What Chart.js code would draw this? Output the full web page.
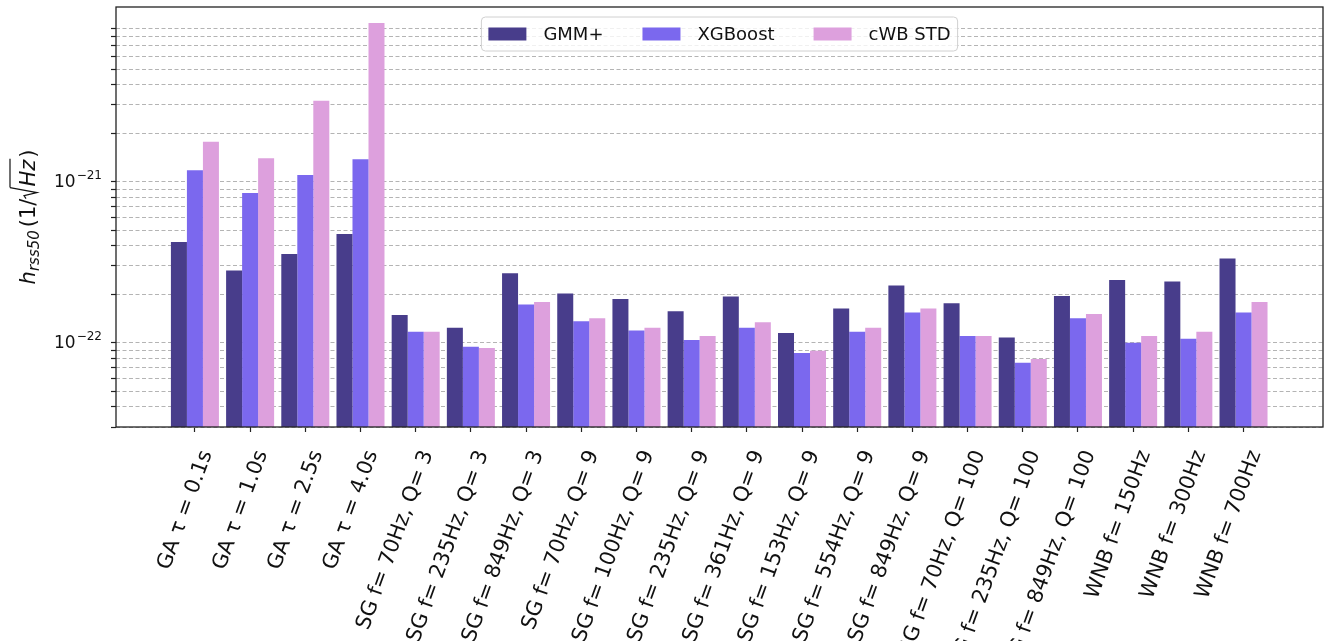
<!DOCTYPE html>
<html>
<head>
<meta charset="utf-8">
<script src="https://cdn.jsdelivr.net/npm/chart.js@4.4.1/dist/chart.umd.min.js"></script>
<style>
  body { margin: 0; background: #fff; }
  #wrap { width: 1325px; height: 641px; position: relative; }
</style>
</head>
<body>
<div id="wrap"><canvas id="myChart"></canvas></div>
<script>
// categorias (eje x)
const categories = [
    'GA τ = 0.1s', 'GA τ = 1.0s', 'GA τ = 2.5s', 'GA τ = 4.0s',
    'SG f= 70Hz, Q= 3', 'SG f= 235Hz, Q= 3', 'SG f= 849Hz, Q= 3',
    'SG f= 70Hz, Q= 9', 'SG f= 100Hz, Q= 9', 'SG f= 235Hz, Q= 9',
    'SG f= 361Hz, Q= 9', 'SG f= 153Hz, Q= 9', 'SG f= 554Hz, Q= 9',
    'SG f= 849Hz, Q= 9', 'SG f= 70Hz, Q= 100', 'SG f= 235Hz, Q= 100',
    'SG f= 849Hz, Q= 100', 'WNB f= 150Hz', 'WNB f= 300Hz', 'WNB f= 700Hz'
];

// hrss50 por metodo
const gmmValues = [4.22e-22, 2.81e-22, 3.56e-22, 4.73e-22, 1.49e-22, 1.24e-22, 2.70e-22, 2.02e-22, 1.87e-22, 1.57e-22,
                   1.94e-22, 1.15e-22, 1.63e-22, 2.27e-22, 1.76e-22, 1.08e-22, 1.95e-22, 2.45e-22, 2.40e-22, 3.34e-22];
const xgbValues = [1.18e-21, 8.51e-22, 1.10e-21, 1.38e-21, 1.17e-22, 9.45e-23, 1.73e-22, 1.36e-22, 1.19e-22, 1.04e-22,
                   1.24e-22, 8.63e-23, 1.17e-22, 1.54e-22, 1.10e-22, 7.51e-23, 1.42e-22, 1.00e-22, 1.06e-22, 1.54e-22];
const cwbValues = [1.77e-21, 1.40e-21, 3.18e-21, 9.68e-21, 1.17e-22, 9.27e-23, 1.79e-22, 1.42e-22, 1.24e-22, 1.10e-22,
                   1.34e-22, 8.91e-23, 1.24e-22, 1.63e-22, 1.10e-22, 7.92e-23, 1.51e-22, 1.10e-22, 1.17e-22, 1.79e-22];

const seriesNames = ['GMM+', 'XGBoost', 'cWB STD'];

// ticks del eje y (log): decadas y mantisas
const tickDecades = [-23, -22, -21];
const tickMantissas = [1, 2, 3, 4, 5, 6, 7, 8, 9];
const yMin = 3.0e-23;
const yMax = 1.216e-20;

const FONT = '"DejaVu Sans", sans-serif';
Chart.defaults.font.family = FONT;
Chart.defaults.color = '#111';

const toPoints = vals => vals.map((v, i) => ({x: i, y: v}));

// marco del grafico
const frame = {
    id: 'frame',
    afterDatasetsDraw(chart) {
        const {ctx, chartArea: a} = chart;
        ctx.save();
        ctx.strokeStyle = '#222';
        ctx.lineWidth = 1.3;
        ctx.strokeRect(a.left, a.top, a.right - a.left, a.bottom - a.top);
        ctx.restore();
    }
};

// leyenda dentro del area, estilo matplotlib
const boxLegend = {
    id: 'boxLegend',
    afterDatasetsDraw(chart) {
        const {ctx, chartArea: a} = chart;
        const sets = chart.data.datasets;
        ctx.save();
        ctx.font = '18px ' + FONT;
        const pad = 7, sw = 38, sh = 13, gap = 17, colGap = 39;
        const widths = sets.map(d => ctx.measureText(d.label).width);
        const total = pad * 2 + sets.length * (sw + gap) + widths.reduce((s, w) => s + w, 0) + colGap * (sets.length - 1);
        const x0 = (a.left + a.right) / 2 - total / 2;
        const y0 = 17, h = 34;
        ctx.beginPath();
        ctx.roundRect(x0, y0, total, h, 4);
        ctx.fillStyle = 'rgba(255,255,255,0.8)';
        ctx.fill();
        ctx.strokeStyle = '#d0d0d0';
        ctx.lineWidth = 1;
        ctx.stroke();
        let x = x0 + pad;
        const cy = y0 + h / 2;
        sets.forEach((d, i) => {
            ctx.fillStyle = d.backgroundColor;
            ctx.fillRect(x, cy - sh / 2, sw, sh);
            x += sw + gap;
            ctx.fillStyle = '#111';
            ctx.textBaseline = 'middle';
            ctx.fillText(d.label, x, cy + 1);
            x += widths[i] + colGap;
        });
        ctx.restore();
    }
};

// etiquetas 10^n del eje y con exponente
const yPowLabels = {
    id: 'yPowLabels',
    afterDraw(chart) {
        const {ctx} = chart;
        const s = chart.scales.y;
        ctx.save();
        ctx.fillStyle = '#111';
        ctx.textBaseline = 'middle';
        tickDecades.forEach(d => {
            const v = Math.pow(10, d);
            if (v < s.min || v > s.max) return;
            const y = s.getPixelForValue(v);
            const exp = '\u2212' + Math.abs(d);
            ctx.font = '12px ' + FONT;
            const ew = ctx.measureText(exp).width;
            ctx.font = '17px ' + FONT;
            const bw = ctx.measureText('10').width;
            const right = s.right - 14;
            ctx.fillText('10', right - ew - bw - 1, y + 1);
            ctx.font = '12px ' + FONT;
            ctx.fillText(exp, right - ew, y - 6);
        });
        ctx.restore();
    }
};

// titulo del eje y con subindice y raiz
const yTitle = {
    id: 'yTitle',
    afterDraw(chart) {
        const {ctx, chartArea: a} = chart;
        const parts = [
            {t: 'h', f: 'italic 21px ' + FONT, dy: 0},
            {t: 'rss50', f: 'italic 15px ' + FONT, dy: 4},
            {t: '(1/', f: '21px ' + FONT, dy: 0, pre: 3},
            {t: '', rad: true, w: 12},
            {t: 'Hz', f: 'italic 21px ' + FONT, dy: 0, bar: true},
            {t: ')', f: '21px ' + FONT, dy: 0, pre: 2}
        ];
        ctx.save();
        let total = 0;
        parts.forEach(p => {
            if (!p.rad) { ctx.font = p.f; p.w = ctx.measureText(p.t).width; }
            total += p.w + (p.pre || 0);
        });
        ctx.translate(0, (a.top + a.bottom) / 2);
        ctx.rotate(-Math.PI / 2);
        let x = -total / 2;
        const base = 35;
        ctx.fillStyle = '#111';
        ctx.strokeStyle = '#111';
        ctx.lineWidth = 1.2;
        ctx.textBaseline = 'alphabetic';
        let radStart = 0;
        parts.forEach(p => {
            x += p.pre || 0;
            if (p.rad) {
                radStart = x;
                ctx.beginPath();
                ctx.moveTo(x, base - 9);
                ctx.lineTo(x + 3, base - 11);
                ctx.lineTo(x + 6, base + 2);
                ctx.lineTo(x + 11, base - 25);
                ctx.stroke();
            } else {
                ctx.font = p.f;
                ctx.fillText(p.t, x, base + p.dy);
                if (p.bar) {
                    ctx.beginPath();
                    ctx.moveTo(radStart + 11, base - 25);
                    ctx.lineTo(x + p.w + 1, base - 25);
                    ctx.stroke();
                }
            }
            x += p.w;
        });
        ctx.restore();
    }
};

const ctx = document.getElementById('myChart').getContext('2d');
const myChart = new Chart(ctx, {
    type: 'bar',
    data: {
        datasets: [
            {label: seriesNames[0], data: toPoints(gmmValues), backgroundColor: '#483D8B'},
            {label: seriesNames[1], data: toPoints(xgbValues), backgroundColor: '#7B68EE'},
            {label: seriesNames[2], data: toPoints(cwbValues), backgroundColor: '#DDA0DD'}
        ]
    },
    options: {
        responsive: true,
        maintainAspectRatio: false,
        animation: false,
        layout: {padding: {top: 7, right: 2, left: 0, bottom: 0}},
        datasets: {bar: {categoryPercentage: 0.87, barPercentage: 1.0, borderWidth: 0}},
        plugins: {
            legend: {display: false},
            tooltip: {enabled: false}
        },
        scales: {
            x: {
                type: 'linear',
                min: -1.43,
                max: 20.44,
                offset: false,
                grid: {display: true, drawOnChartArea: false, drawTicks: true, offset: false,
                       tickLength: 5, tickColor: '#222', tickWidth: 1.2},
                border: {display: false},
                afterBuildTicks: scale => {
                    scale.ticks = categories.map((c, i) => ({value: i}));
                },
                afterFit: scale => {
                    scale.height = 214;
                    scale.paddingLeft = 0;
                    scale.paddingRight = 0;
                },
                ticks: {
                    autoSkip: false,
                    maxRotation: 70,
                    minRotation: 70,
                    padding: 15,
                    labelOffset: 12,
                    color: '#111',
                    font: {size: 21},
                    callback: v => categories[v]
                }
            },
            y: {
                type: 'logarithmic',
                min: yMin,
                max: yMax,
                grid: {color: '#b4b4b4', lineWidth: 1, drawTicks: true, tickLength: 5,
                       tickColor: '#222', tickWidth: 1.2, tickBorderDash: []},
                border: {display: false, dash: [4, 2.5]},
                afterBuildTicks: scale => {
                    const t = [];
                    tickDecades.forEach(d => tickMantissas.forEach(m => {
                        const v = m * Math.pow(10, d);
                        if (v >= yMin * 0.999 && v <= yMax) t.push({value: v});
                    }));
                    scale.ticks = t;
                },
                afterFit: scale => {
                    scale.width = 116;
                    scale.paddingTop = 0;
                    scale.paddingBottom = 0;
                },
                ticks: {
                    autoSkip: false,
                    callback: () => ''
                }
            }
        }
    },
    plugins: [frame, boxLegend, yPowLabels, yTitle]
});
</script>
</body>
</html>
